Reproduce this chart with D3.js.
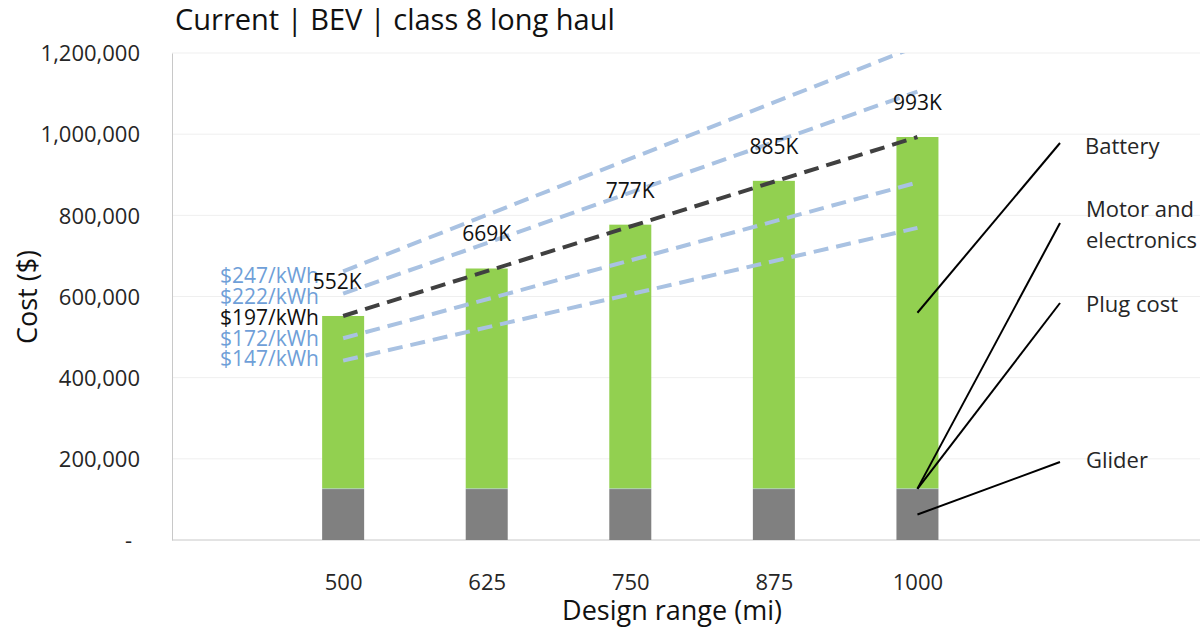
<!DOCTYPE html>
<html><head><meta charset="utf-8">
<script src="https://cdn.jsdelivr.net/npm/d3@7"></script>
<style>body{margin:0;background:#fff}svg{display:block}text{font-family:"Open Sans",sans-serif}</style>
</head><body><svg id="c" width="1202" height="639"></svg>
<script>
// ---- data ----
const ranges = [500, 625, 750, 875, 1000];
const totals = [552000, 669000, 777000, 885000, 993000];
const totalLabels = ["552K", "669K", "777K", "885K", "993K"];
const glider = [125500, 125500, 125500, 125500, 125500];
const plugCost = [800, 800, 800, 800, 800];
const motorElec = [700, 700, 700, 700, 700];
const battery = totals.map((t, i) => t - glider[i] - plugCost[i] - motorElec[i]);
const priceLabels = ["$247/kWh", "$222/kWh", "$197/kWh", "$172/kWh", "$147/kWh"];
const costAt500 = [662000, 607000, 552000, 497000, 442000];
const costAt1000 = [1217000, 1105000, 993000, 881000, 769000];
const yTicks = [0, 200000, 400000, 600000, 800000, 1000000, 1200000];
const seriesNames = ["Battery", "Motor and electronics", "Plug cost", "Glider"];

const svg = d3.select("#c");
const x = d3.scaleLinear().domain([351, 1246]).range([172, 1200]);
const y = d3.scaleLinear().domain([0, 1200000]).range([540, 53]);
const barW = 42;

// gridlines
svg.append("g").selectAll("line").data(yTicks.slice(1)).join("line")
  .attr("x1", 172).attr("x2", 1200).attr("y1", d => y(d)).attr("y2", d => y(d))
  .attr("stroke", "#efefef").attr("stroke-width", 1);

// y axis
const yAxis = d3.axisLeft(y).tickValues(yTicks).tickSize(0).tickPadding(32)
  .tickFormat(d => d === 0 ? "-" : d3.format(",")(d));
const ga = svg.append("g").attr("transform", "translate(172,0)").call(yAxis);
ga.select(".domain").attr("stroke", "#c8c8c8");
ga.selectAll("text").attr("font-size", 22).attr("fill", "#262626").style("font-family", "Open Sans").attr("dy", "0.35em");
ga.selectAll(".tick").filter(d => d === 0).select("text").attr("dx", -8);

// x axis
const xAxis = d3.axisBottom(x).tickValues(ranges).tickSize(0).tickPadding(0).tickFormat(d3.format("d"));
const gx = svg.append("g").attr("transform", "translate(0,540)").call(xAxis);
gx.select(".domain").attr("stroke", "#c8c8c8").attr("d", "M172,0H1200");
gx.selectAll("text").attr("font-size", 22).attr("fill", "#262626").style("font-family", "Open Sans")
  .attr("y", 50).attr("dy", 0);

// stacked bars
const rows = ranges.map((r, i) => ({r, Glider: glider[i], "Plug cost": plugCost[i], "Motor and electronics": motorElec[i], Battery: battery[i]}));
const stack = d3.stack().keys(["Glider", "Plug cost", "Motor and electronics", "Battery"])(rows);
const colors = {"Glider": "#808080", "Plug cost": "#8faadc", "Motor and electronics": "#7f9fcf", "Battery": "#92d050"};
svg.append("g").selectAll("g").data(stack).join("g").attr("fill", s => colors[s.key])
  .selectAll("rect").data(s => s).join("rect")
  .attr("x", d => x(d.data.r) - barW / 2).attr("width", barW)
  .attr("y", d => y(d[1])).attr("height", d => y(d[0]) - y(d[1]));

// dashed price lines
svg.append("clipPath").attr("id", "clip").append("rect").attr("x", 172).attr("y", 53).attr("width", 1030).attr("height", 487);
const lg = svg.append("g").attr("clip-path", "url(#clip)");
priceLabels.forEach((p, i) => {
  lg.append("line")
    .attr("x1", x(500)).attr("y1", y(costAt500[i]))
    .attr("x2", x(1000)).attr("y2", y(costAt1000[i]))
    .attr("stroke", i === 2 ? "#404040" : "#a9c2e2")
    .attr("stroke-width", 4).attr("stroke-dasharray", "15,8");
});

// price labels
const priceBase = [283, 304, 325, 346, 366];
svg.append("g").selectAll("text").data(priceLabels).join("text")
  .attr("x", 319).attr("y", (d, i) => priceBase[i])
  .attr("text-anchor", "end")
  .attr("font-size", 21).attr("fill", (d, i) => i === 2 ? "#111" : "#6f9fd8")
  .text(d => d);

// total labels
svg.append("g").selectAll("text").data(totalLabels).join("text")
  .attr("x", (d, i) => x(ranges[i]) + (i === 0 ? -6 : 0)).attr("y", (d, i) => y(totals[i]) - 27)
  .attr("text-anchor", "middle")
  .attr("font-size", 21).attr("fill", "#111").text(d => d);

// series labels with leader lines (last bar)
const last = ranges.length - 1;
const mid = {
  "Battery": y(glider[last] + plugCost[last] + motorElec[last] + battery[last] / 2),
  "Motor and electronics": y(glider[last] + plugCost[last] + motorElec[last] / 2),
  "Plug cost": y(glider[last] + plugCost[last] / 2),
  "Glider": y(glider[last] / 2)
};
const labelY = {"Battery": 143, "Motor and electronics": 223, "Plug cost": 303, "Glider": 462};
seriesNames.forEach(n => {
  svg.append("line").attr("x1", x(1000)).attr("y1", mid[n]).attr("x2", 1060).attr("y2", labelY[n])
    .attr("stroke", "#000").attr("stroke-width", 2);
});
const lt = svg.append("g").attr("font-size", 22).attr("fill", "#262626");
lt.append("text").attr("x", 1085).attr("y", 154).text("Battery");
lt.append("text").attr("x", 1086).attr("y", 217).text("Motor and");
lt.append("text").attr("x", 1086).attr("y", 248).text("electronics");
lt.append("text").attr("x", 1086).attr("y", 312).text("Plug cost");
lt.append("text").attr("x", 1086).attr("y", 468).text("Glider");

// titles
svg.append("text").attr("x", 175).attr("y", 30)
  .attr("font-size", 29).attr("fill", "#111").text("Current | BEV | class 8 long haul");
svg.append("text").attr("transform", "translate(37,297) rotate(-90)").attr("text-anchor", "middle")
  .attr("font-size", 27).attr("fill", "#111").text("Cost ($)");
svg.append("text").attr("x", 672).attr("y", 620).attr("text-anchor", "middle")
  .attr("font-size", 27).attr("fill", "#111").text("Design range (mi)");
</script></body></html>
